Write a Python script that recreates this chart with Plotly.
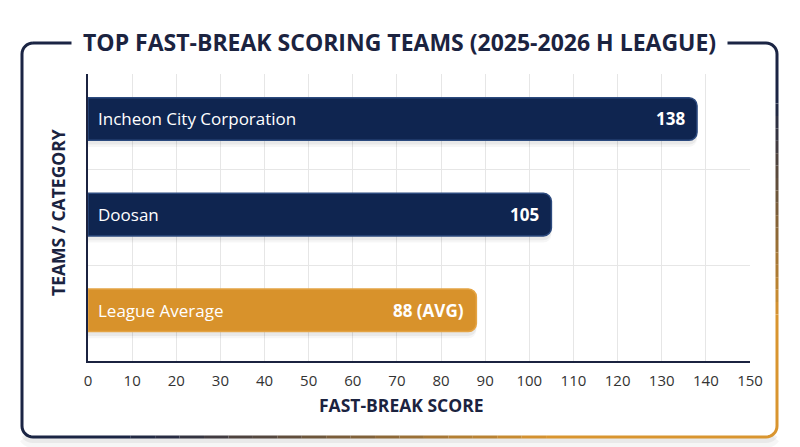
import math
import plotly.graph_objects as go

# ---------------- data ----------------
categories = ["Incheon City Corporation", "Doosan", "League Average"]
scores = [138, 105, 88]
label_suffix = ["", "", " (AVG)"]
x_ticks = list(range(0, 151, 10))

# ---------------- style ----------------
NAVY = "#0f2550"
ORANGE = "#d8922b"
TEXT_DARK = "#1b2340"
bar_colors = [NAVY, NAVY, ORANGE]
outline_colors = ["#2c4a7e", "#2c4a7e", "#e4a444"]
FONT = "Open Sans"

W, H = 800, 447
L, R, T, B = 88, 50, 74, 86
PW = W - L - R
PH = H - T - B


def px(x):
    return (x - L) / PW


def py(y):
    return (H - B - y) / PH


n = len(categories)
ypos = [n - 1 - i for i in range(n)]
BAR_LIFT = 0.03  # visual nudge upward

fig = go.Figure()

# soft shadow under bars
for dy, alpha in [(-0.07, 0.035), (-0.045, 0.05)]:
    fig.add_trace(go.Bar(
        x=scores, y=[p + BAR_LIFT + dy for p in ypos], orientation="h", width=0.445,
        marker=dict(color=f"rgba(0,0,0,{alpha})", cornerradius=8, line=dict(width=0)),
        hoverinfo="skip", showlegend=False,
    ))
fig.add_trace(go.Bar(
    x=scores, y=[p + BAR_LIFT for p in ypos], orientation="h", width=0.445,
    marker=dict(color=bar_colors, cornerradius=8,
                line=dict(color=outline_colors, width=1.5)),
    hoverinfo="skip", showlegend=False,
))

annotations = []
for i, (cat, val, suf) in enumerate(zip(categories, scores, label_suffix)):
    annotations.append(dict(
        x=0, y=ypos[i] + BAR_LIFT, xref="x", yref="y", text=cat, showarrow=False,
        xanchor="left", yanchor="middle", xshift=8,
        font=dict(family=FONT, size=17, color="white"),
    ))
    annotations.append(dict(
        x=val, y=ypos[i] + BAR_LIFT, xref="x", yref="y", text=f"<b>{val}{suf}</b>", showarrow=False,
        xanchor="right", yanchor="middle", xshift=-10,
        font=dict(family=FONT, size=17, color="white"),
    ))

# title over the frame border
annotations.append(dict(
    x=px(399), y=py(42), xref="paper", yref="paper",
    text="<b>TOP FAST-BREAK SCORING TEAMS (2025-2026 H LEAGUE)</b>",
    showarrow=False, xanchor="center", yanchor="middle",
    bgcolor="white", borderpad=11,
    font=dict(family=FONT, size=23, color=TEXT_DARK),
))
annotations.append(dict(
    x=px(58), y=py(213), xref="paper", yref="paper",
    text="<b>TEAMS / CATEGORY</b>", textangle=-90, showarrow=False,
    xanchor="center", yanchor="middle",
    font=dict(family=FONT, size=17.5, color=TEXT_DARK),
))
annotations.append(dict(
    x=px(401), y=py(405), xref="paper", yref="paper",
    text="<b>FAST-BREAK SCORE</b>", showarrow=False,
    xanchor="center", yanchor="middle",
    font=dict(family=FONT, size=17.5, color=TEXT_DARK),
))

# ---------------- frame with gradient border ----------------
x0, y0, x1, y1, rad = 22, 43, 777, 437, 11


def rr_points(x0, y0, x1, y1, r, ne=30, nc=8):
    pts = []

    def edge(a, b):
        for k in range(ne):
            t = k / ne
            pts.append((a[0] + (b[0] - a[0]) * t, a[1] + (b[1] - a[1]) * t))

    def corner(cx, cy, a0, a1):
        for k in range(nc):
            a = math.radians(a0 + (a1 - a0) * k / nc)
            pts.append((cx + r * math.cos(a), cy + r * math.sin(a)))

    edge((x0 + r, y0), (x1 - r, y0))
    corner(x1 - r, y0 + r, -90, 0)
    edge((x1, y0 + r), (x1, y1 - r))
    corner(x1 - r, y1 - r, 0, 90)
    edge((x1 - r, y1), (x0 + r, y1))
    corner(x0 + r, y1 - r, 90, 180)
    edge((x0, y1 - r), (x0, y0 + r))
    corner(x0 + r, y0 + r, 180, 270)
    pts.append(pts[0])
    return pts


def mix(c1, c2, t):
    a = [int(c1[i:i + 2], 16) for i in (1, 3, 5)]
    b = [int(c2[i:i + 2], 16) for i in (1, 3, 5)]
    return "rgb(%d,%d,%d)" % tuple(round(a[j] + (b[j] - a[j]) * t) for j in range(3))


shapes = []
# frame shadow (bottom edge only)
sh_pts = [p for p in rr_points(x0, y0, x1, y1, rad) if p[1] > y1 - 6]
for off, alpha, w in [(6, 0.035, 10), (3, 0.05, 6)]:
    path = "M " + " L ".join(f"{px(p[0])},{py(p[1] + off)}" for p in sh_pts)
    shapes.append(dict(type="path", xref="paper", yref="paper", path=path,
                       line=dict(color=f"rgba(0,0,0,{alpha})", width=w), layer="below"))

pts = rr_points(x0, y0, x1, y1, rad)
FRAME_DARK = "#1b2544"
FRAME_ORANGE = "#d9952f"
run = [pts[0]]
run_col = None
for a, b in zip(pts[:-1], pts[1:]):
    mx, my = (a[0] + b[0]) / 2, (a[1] + b[1]) / 2
    s = (mx - x0) / (x1 - x0) + (my - y0) / (y1 - y0)
    t = min(1, max(0, (s - 1.15) / 0.55))
    col = mix(FRAME_DARK, FRAME_ORANGE, round(t * 30) / 30)
    if run_col is None:
        run_col = col
    if col != run_col:
        shapes.append(dict(type="path", xref="paper", yref="paper",
                           path="M " + " L ".join(f"{px(p[0])},{py(p[1])}" for p in run),
                           line=dict(color=run_col, width=3)))
        run = [a]
        run_col = col
    run.append(b)
shapes.append(dict(type="path", xref="paper", yref="paper",
                   path="M " + " L ".join(f"{px(p[0])},{py(p[1])}" for p in run),
                   line=dict(color=run_col, width=3)))

fig.update_layout(
    width=W, height=H,
    margin=dict(l=L, r=R, t=T, b=B),
    paper_bgcolor="white", plot_bgcolor="white",
    barmode="overlay", hovermode=False, showlegend=False,
    annotations=annotations, shapes=shapes,
    font=dict(family=FONT),
    xaxis=dict(
        range=[0, 150], tickvals=x_ticks, ticktext=[str(v) for v in x_ticks],
        showgrid=True, gridcolor="#e6e6e6", gridwidth=1,
        showline=True, linecolor=TEXT_DARK, linewidth=1.5, zeroline=False,
        ticks="outside", ticklen=5, tickcolor="rgba(0,0,0,0)",
        tickfont=dict(family=FONT, size=15, color="#333333"),
        fixedrange=True,
    ),
    yaxis=dict(
        range=[-0.5, n - 0.5], tickvals=[k + 0.5 for k in range(n)],
        showticklabels=False, showgrid=True, gridcolor="#e6e6e6", gridwidth=1,
        showline=True, linecolor=TEXT_DARK, linewidth=1.5, zeroline=False,
        ticks="", fixedrange=True,
    ),
)

fig.write_html(
    "out.html",
    config={"displayModeBar": False},
    post_script="document.body.style.margin='0';document.body.style.overflow='hidden';",
)
